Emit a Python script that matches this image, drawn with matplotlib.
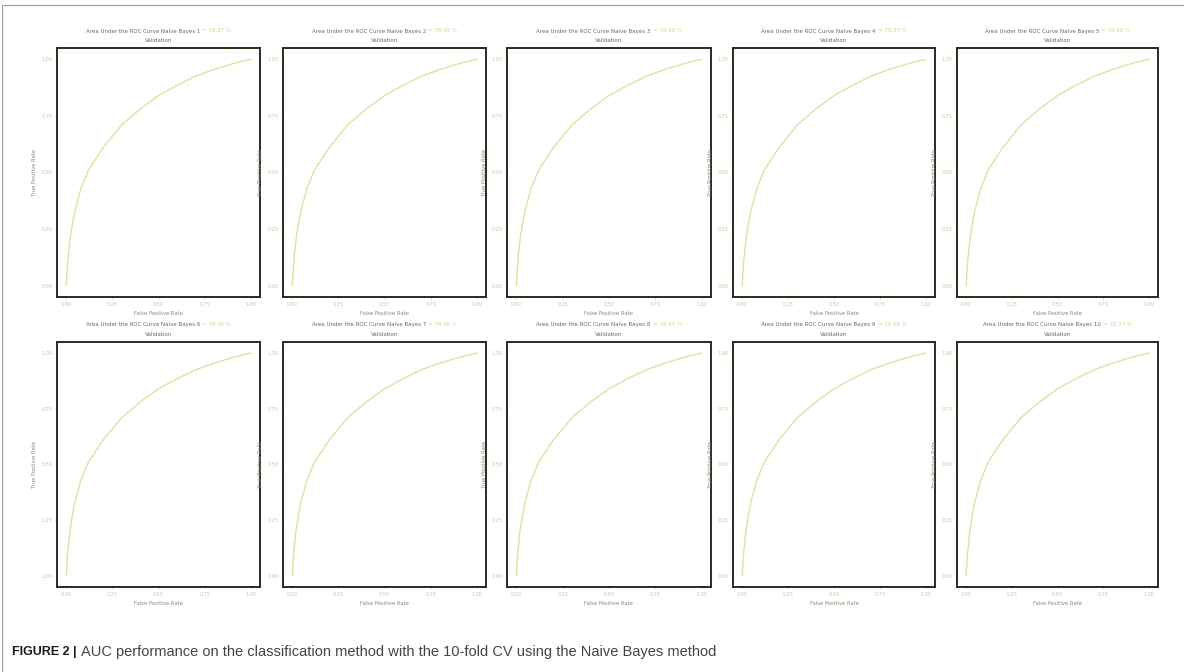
import numpy as np
import matplotlib
matplotlib.use("Agg")
import matplotlib.pyplot as plt
from matplotlib.patches import Rectangle

# ROC curve (same shape in every fold)
fpr = [0.0, 0.005, 0.01, 0.02, 0.035, 0.05, 0.08, 0.12, 0.2, 0.3, 0.4, 0.5, 0.6, 0.7, 0.8, 0.9, 0.97, 1.0]
tpr = [0.0, 0.07, 0.12, 0.2, 0.28, 0.34, 0.43, 0.51, 0.61, 0.71, 0.78, 0.84, 0.885, 0.925, 0.955, 0.98, 0.995, 1.0]

folds = [1, 2, 3, 4, 5, 6, 7, 8, 9, 10]
auc_values = ["78.37", "78.45", "78.45", "78.37", "78.45", "78.46", "78.46", "78.45", "78.66", "78.37"]

ticks = [0.0, 0.25, 0.5, 0.75, 1.0]
tick_labels = ["0.00", "0.25", "0.50", "0.75", "1.00"]

W, H = 1184, 672
fig = plt.figure(figsize=(W / 100, H / 100), dpi=100)

# panel boxes in pixels: (left, right), (top, bottom)
cols = [(57, 260), (283, 486), (507, 711), (733, 935), (957, 1158)]
rows = [(48, 297), (342, 587)]

title_col = "#6a6a5a"
green = "#c8dc8a"
tick_col = "#b9cfa3"

axes = []
for i, k in enumerate(folds):
    (x0, x1) = cols[i % 5]
    (y0, y1) = rows[i // 5]
    ax = fig.add_axes([x0 / W, 1 - y1 / H, (x1 - x0) / W, (y1 - y0) / H])
    ax.plot(fpr, tpr, color="#d6e6a4", lw=1.0)
    ax.set_xlim(-0.05, 1.05)
    ax.set_ylim(-0.05, 1.05)
    ax.set_xticks(ticks)
    ax.set_yticks(ticks)
    ax.set_xticklabels(tick_labels, fontsize=3.5, color=tick_col)
    ax.set_yticklabels(tick_labels, fontsize=3.5, color=tick_col)
    ax.tick_params(length=1.5, width=0.5, colors=tick_col, pad=2)
    for s in ax.spines.values():
        s.set_linewidth(1.4)
        s.set_color("#2a2a1e")
    ax.set_xlabel("False Positive Rate", fontsize=3.8, color="#8a8a7a", labelpad=3)
    ax.set_ylabel("True Positive Rate", fontsize=3.8, color="#8a8a7a", labelpad=3)
    xc = (x0 + x1) / 2 / W
    fig.text(xc, 1 - (y0 - 7) / H, "Validation", ha="center", va="center",
             fontsize=4, color=title_col)
    t1 = fig.text(xc, 1 - (y0 - 17) / H, "Area Under the ROC Curve Naive Bayes %d " % k,
                  ha="left", va="center", fontsize=4, color=title_col)
    t2 = fig.text(xc, 1 - (y0 - 17) / H, "= %s %%" % auc_values[i],
                  ha="left", va="center", fontsize=4, color=green)
    axes.append((xc, t1, t2))

cap1 = fig.text(12 / W, 1 - 652 / H, "FIGURE 2 |", fontsize=9, fontweight="bold",
                color="#1a1a1a", va="center", ha="left", family="Liberation Sans")
cap2 = fig.text(73 / W, 1 - 652 / H,
                "AUC performance on the classification method with the 10-fold CV using the Naive Bayes method",
                fontsize=10.5, color="#444444", va="center", ha="left", family="Liberation Sans")

# center the two-coloured title lines and butt the caption pieces together
fig.canvas.draw()
r = fig.canvas.get_renderer()
for xc, t1, t2 in axes:
    w1 = t1.get_window_extent(r).width
    w2 = t2.get_window_extent(r).width
    left = xc - (w1 + w2) / 2 / W
    t1.set_x(left)
    t2.set_x(left + w1 / W)
cap2.set_x((12 + cap1.get_window_extent(r).width + 4) / W)

fig.patches.append(Rectangle((2 / W, -0.01), 1.2, 1 - 5 / H + 0.01, transform=fig.transFigure,
                             fill=False, edgecolor="#9a9a9a", lw=0.8))

fig.savefig("out.png", dpi=100)
